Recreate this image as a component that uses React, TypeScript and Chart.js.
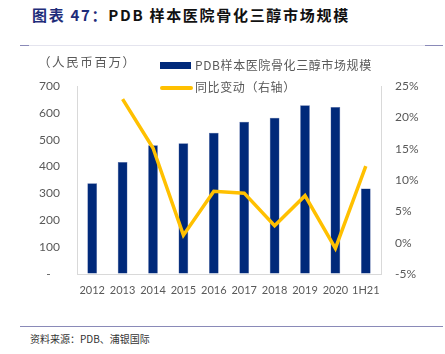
import React, { useEffect, useRef } from "react";
import { Chart, registerables } from "chart.js";

Chart.register(...registerables);

const categories = ["2012", "2013", "2014", "2015", "2016", "2017", "2018", "2019", "2020", "1H21"];
const marketSize = [338, 417, 479, 487, 526, 567, 582, 628, 622, 318];
const yoyChange = [null, 22.9, 15.1, 1.2, 8.2, 7.9, 2.7, 7.5, -0.9, 12.2];
const leftTicks = [0, 100, 200, 300, 400, 500, 600, 700];
const rightTicks = [-5, 0, 5, 10, 15, 20, 25];

const NAVY = "#00297A";
const GOLD = "#FFC000";
const TICK = "#595959";
const CJK = '"Noto Sans CJK SC", "Noto Sans", sans-serif';

export default function App() {
  const ref = useRef<HTMLCanvasElement | null>(null);

  useEffect(() => {
    const canvas = ref.current;
    if (!canvas) return;
    const chart = new Chart(canvas, {
      type: "bar",
      data: {
        labels: categories,
        datasets: [
          {
            type: "line",
            label: "同比变动（右轴）",
            data: yoyChange as any,
            yAxisID: "y1",
            borderColor: GOLD,
            backgroundColor: GOLD,
            borderWidth: 3.5,
            pointRadius: 0,
            tension: 0,
            spanGaps: false,
            order: 0,
          },
          {
            type: "bar",
            label: "PDB样本医院骨化三醇市场规模",
            data: marketSize,
            yAxisID: "y",
            backgroundColor: NAVY,
            borderColor: "#4a62a0",
            borderWidth: 0.5,
            barPercentage: 0.32,
            categoryPercentage: 1,
            order: 1,
          },
        ],
      },
      options: {
        responsive: false,
        animation: false,
        devicePixelRatio: 1,
        layout: { padding: { top: 36, left: 0, right: 0, bottom: 0 } },
        plugins: { legend: { display: false }, tooltip: { enabled: false } },
        scales: {
          x: {
            grid: { display: true, color: "transparent", drawTicks: false },
            border: { display: true, color: "#d9d9d9", width: 1 },
            ticks: { color: TICK, font: { family: "Lato", size: 11 }, padding: 10, maxRotation: 0, minRotation: 0, autoSkip: false },
            afterFit: (s: any) => { s.height = 26; },
          },
          y: {
            position: "left",
            min: 0,
            max: 700,
            grid: { display: true, color: "transparent", drawTicks: false },
            border: { display: true, color: "#d9d9d9", width: 1 },
            afterBuildTicks: (s: any) => { s.ticks = leftTicks.map((v) => ({ value: v })); },
            ticks: {
              color: TICK,
              font: { family: "Lato", size: 12 },
              padding: 17,
              callback: (v: any) => (Number(v) === 0 ? "-   " : String(v)),
            },
            afterFit: (s: any) => { s.width = 77; },
          },
          y1: {
            position: "right",
            min: -5,
            max: 25,
            grid: { display: true, color: "transparent", drawTicks: false },
            border: { display: true, color: "#d9d9d9", width: 1 },
            afterBuildTicks: (s: any) => { s.ticks = rightTicks.map((v) => ({ value: v })); },
            ticks: {
              color: TICK,
              font: { family: "Lato", size: 12 },
              padding: 14,
              callback: (v: any) => `${v}%`,
            },
            afterFit: (s: any) => { s.width = 64; },
          },
        },
      },
    });
    return () => chart.destroy();
  }, []);

  return (
    <div style={{ position: "fixed", left: 0, top: 0, width: 445, height: 354, background: "#fff", overflow: "hidden", fontFamily: CJK }}>
      <div style={{ position: "absolute", left: 32, top: 5, fontSize: 15, fontWeight: 700, letterSpacing: "1.7px", lineHeight: "20px", whiteSpace: "nowrap" }}>
        <span style={{ color: "#1F2D7A" }}>图表 47：</span>
        <span style={{ color: "#111" }}>PDB 样本医院骨化三醇市场规模</span>
      </div>
      <div style={{ position: "absolute", left: 20, top: 45, width: 423, height: 1, background: "#e4e4ee" }} />
      <div style={{ position: "absolute", left: 20, top: 45, width: 9, height: 1, background: "#8a8ab8" }} />
      <div style={{ position: "absolute", left: 425, top: 45, width: 18, height: 1, background: "#8a8ab8" }} />

      <canvas ref={ref} width={445} height={250} style={{ position: "absolute", left: 0, top: 50, width: 445, height: 250 }} />

      <div style={{ position: "absolute", left: 38, top: 54, fontSize: 12.5, color: TICK, lineHeight: "16px", letterSpacing: "1.6px", whiteSpace: "nowrap" }}>（人民币百万）</div>

      <div style={{ position: "absolute", left: 160, top: 62, width: 31, height: 7, background: NAVY }} />
      <div style={{ position: "absolute", left: 195, top: 57, fontSize: 12, color: TICK, lineHeight: "16px", letterSpacing: "0.6px", whiteSpace: "nowrap" }}>PDB样本医院骨化三醇市场规模</div>
      <div style={{ position: "absolute", left: 160, top: 86, width: 33, height: 3.5, background: GOLD, borderRadius: 2 }} />
      <div style={{ position: "absolute", left: 195, top: 79, fontSize: 12, color: TICK, lineHeight: "16px", letterSpacing: "0.6px", whiteSpace: "nowrap" }}>同比变动（右轴）</div>

      <div style={{ position: "absolute", left: 20, top: 326, width: 423, height: 1, background: "#8a8ab8" }} />
      <div style={{ position: "absolute", left: 30, top: 332, fontSize: 10, color: "#333", lineHeight: "14px", whiteSpace: "nowrap" }}>资料来源：PDB、浦银国际</div>
    </div>
  );
}
